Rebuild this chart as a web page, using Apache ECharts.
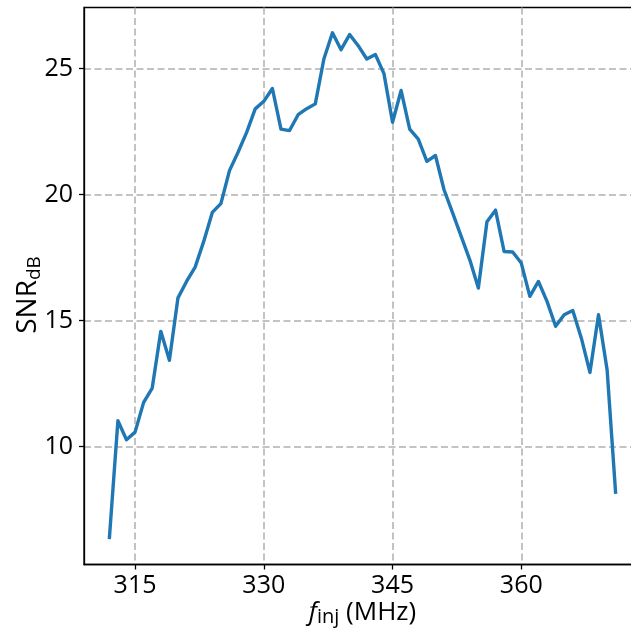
<!DOCTYPE html>
<html>
<head>
<meta charset="utf-8">
<script src="https://cdn.jsdelivr.net/npm/echarts@6/dist/echarts.min.js"></script>
<style>
html,body{margin:0;padding:0;background:#fff;}
#chart{width:631px;height:635px;}
</style>
</head>
<body>
<div id="chart"></div>
<script>
// Data
const freqs = [312,313,314,315,316,317,318,319,320,321,322,323,324,325,326,327,328,329,330,331,
  332,333,334,335,336,337,338,339,340,341,342,343,344,345,346,347,348,349,350,351,
  352,353,354,355,356,357,358,359,360,361,362,363,364,365,366,367,368,369,370,371];
const snrDb = [6.32,11.02,10.27,10.57,11.75,12.32,14.57,13.42,15.9,16.55,17.12,18.14,19.29,19.64,20.95,21.68,22.47,23.4,23.7,24.21,
  22.6,22.54,23.17,23.41,23.6,25.38,26.42,25.75,26.35,25.91,25.38,25.56,24.8,22.87,24.13,22.6,22.2,21.32,21.55,20.19,
  19.27,18.34,17.41,16.29,18.92,19.38,17.74,17.72,17.28,15.96,16.55,15.76,14.77,15.23,15.4,14.3,12.94,15.23,13.05,8.12];
const xTicks = [315,330,345,360];
const yTicks = [10,15,20,25];
const xRange = [309.05, 373.95];
const yRange = [5.315, 27.425];

const FONT = 'Open Sans';
const chart = echarts.init(document.getElementById('chart'), null, {renderer:'canvas'});
const gridLine = {show:true, lineStyle:{color:'#b0b0b0', width:1.5, type:[7,3.5]}};
chart.setOption({
  animation:false,
  backgroundColor:'#ffffff',
  grid:{left:84, top:7.5, width:557, height:557, containLabel:false, outerBoundsMode:'none',
        show:true, borderColor:'#000', borderWidth:1.3, backgroundColor:'transparent'},
  xAxis:{
    type:'value', min:xRange[0], max:xRange[1],
    axisLine:{show:true, lineStyle:{color:'#000', width:1.3}},
    axisTick:{show:true, inside:false, length:5, customValues:xTicks, lineStyle:{color:'#000', width:1.3}},
    axisLabel:{show:true, customValues:xTicks, margin:9, fontSize:25, color:'#000', fontFamily:FONT},
    splitLine:gridLine,
    name:'{i|f}{s|inj}{n| (MHz)}', nameLocation:'middle', nameGap:33, nameMoveOverlap:false,
    nameTextStyle:{color:'#000', fontFamily:FONT, rich:{
      i:{fontSize:26, fontStyle:'italic', fontFamily:FONT, color:'#000', lineHeight:30, verticalAlign:'middle'},
      s:{fontSize:20, fontFamily:FONT, color:'#000', lineHeight:16, verticalAlign:'bottom'},
      n:{fontSize:26, fontFamily:FONT, color:'#000', lineHeight:30, verticalAlign:'middle'}
    }}
  },
  yAxis:{
    type:'value', min:yRange[0], max:yRange[1],
    axisLine:{show:true, lineStyle:{color:'#000', width:1.3}},
    axisTick:{show:true, inside:false, length:5, customValues:yTicks, lineStyle:{color:'#000', width:1.3}},
    axisLabel:{show:true, customValues:yTicks, margin:11, fontSize:25, color:'#000', fontFamily:FONT},
    splitLine:gridLine,
    name:'{n|SNR}{s|dB}', nameLocation:'middle', nameGap:40, nameRotate:90, nameMoveOverlap:false,
    nameTextStyle:{color:'#000', fontFamily:FONT, padding:[0,18,0,0], rich:{
      n:{fontSize:28, fontFamily:FONT, color:'#000', lineHeight:32, verticalAlign:'middle'},
      s:{fontSize:19, fontFamily:FONT, color:'#000', lineHeight:16, verticalAlign:'bottom'}
    }}
  },
  series:[{
    type:'line',
    data:freqs.map((f,i)=>[f, snrDb[i]]),
    showSymbol:false,
    symbol:'none',
    clip:true,
    lineStyle:{color:'#1f77b4', width:3.4, join:'round', cap:'butt'}
  }]
});
</script>
</body>
</html>
